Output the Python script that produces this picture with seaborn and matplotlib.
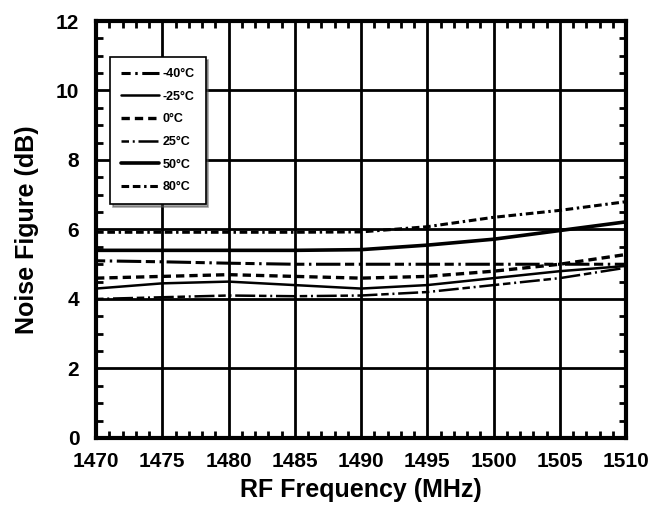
import matplotlib
matplotlib.use("Agg")
import matplotlib.pyplot as plt
import seaborn as sns
import numpy as np
from matplotlib.ticker import MultipleLocator

freq = [1470, 1475, 1480, 1485, 1490, 1495, 1500, 1505, 1510]
nf_m40 = [5.10, 5.07, 5.03, 5.00, 5.00, 5.00, 5.00, 5.00, 5.00]
nf_m25 = [4.30, 4.45, 4.50, 4.40, 4.30, 4.40, 4.60, 4.80, 4.95]
nf_0 = [4.60, 4.65, 4.70, 4.65, 4.60, 4.65, 4.80, 5.00, 5.28]
nf_25 = [4.00, 4.05, 4.10, 4.08, 4.10, 4.20, 4.40, 4.60, 4.90]
nf_50 = [5.40, 5.40, 5.40, 5.40, 5.42, 5.55, 5.72, 5.97, 6.22]
nf_80 = [5.92, 5.92, 5.92, 5.92, 5.93, 6.08, 6.35, 6.55, 6.80]
temps = ["-40°C", "-25°C", "0°C", "25°C", "50°C", "80°C"]

sns.set_style("ticks")
plt.rcParams['font.family'] = ['Liberation Sans', 'DejaVu Sans']
plt.rcParams['font.weight'] = 'bold'
plt.rcParams['text.color'] = 'black'
plt.rcParams['axes.labelcolor'] = 'black'
plt.rcParams['xtick.color'] = 'black'
plt.rcParams['ytick.color'] = 'black'

fig = plt.figure(figsize=(6.51, 5.11), dpi=100)
ax = fig.add_axes([0.1475, 0.1429, 0.8141, 0.816])

series = [nf_m40, nf_m25, nf_0, nf_25, nf_50, nf_80]
styles = [
    (0, (3, 1.5, 0.8, 1.5, 8, 1.5)),
    "-",
    (0, (2.5, 1.5)),
    (0, (3, 1.5, 0.8, 1.5, 8, 1.5)),
    "-",
    (0, (2.5, 1.2, 2.5, 1.2, 0.8, 1.2)),
]
widths = [2.2, 1.8, 2.4, 1.8, 2.6, 2.2]

for vals, name, ls, lw in zip(series, temps, styles, widths):
    sns.lineplot(x=freq, y=vals, ax=ax, color="black", linestyle=ls, lw=lw, label=name)

ax.set_xlim(1470, 1510)
ax.set_ylim(0, 12)
ax.xaxis.set_major_locator(MultipleLocator(5))
ax.xaxis.set_minor_locator(MultipleLocator(1))
ax.yaxis.set_major_locator(MultipleLocator(2))
ax.yaxis.set_minor_locator(MultipleLocator(0.5))
ax.grid(True, which="major", color="black", lw=2)
ax.tick_params(which="both", direction="in", top=True, right=True, color="black")
ax.tick_params(which="major", length=0, labelsize=15, labelcolor="black")
ax.tick_params(axis="x", which="major", pad=10)
ax.tick_params(axis="y", which="major", pad=12)
ax.tick_params(which="minor", length=5, width=2)
for s in ax.spines.values():
    s.set_linewidth(3)
    s.set_color("black")
for lab in ax.get_xticklabels() + ax.get_yticklabels():
    lab.set_fontweight("bold")

ax.set_xlabel("RF Frequency (MHz)", fontsize=18, fontweight="bold", labelpad=5, color="black")
ax.set_ylabel("Noise Figure (dB)", fontsize=18, fontweight="bold", labelpad=12, color="black")

leg = ax.legend(loc="upper left", bbox_to_anchor=(0.026, 0.914), borderaxespad=0,
                frameon=True, fancybox=False, shadow=True, edgecolor="black", fontsize=9,
                handlelength=3.0, labelspacing=0.85, borderpad=0.9, handletextpad=0.3,
                framealpha=1)
leg.get_frame().set_linewidth(1.2)
for t in leg.get_texts():
    t.set_fontweight("bold")
    t.set_color("black")

fig.savefig("out.png", dpi=100)
